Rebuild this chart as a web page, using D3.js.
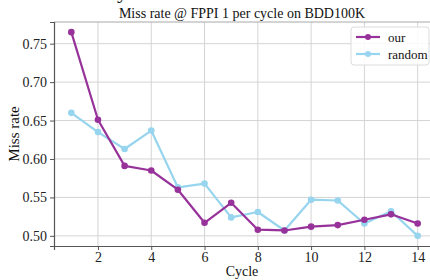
<!DOCTYPE html>
<html>
<head>
<meta charset="utf-8">
<script src="https://cdn.jsdelivr.net/npm/d3@7"></script>
<style>
  body { margin: 0; background: #fff; }
  svg { display: block; }
</style>
</head>
<body>
<div id="chart"></div>
<script>
// Data
const cycles = [1, 2, 3, 4, 5, 6, 7, 8, 9, 10, 11, 12, 13, 14];
const ourValues = [0.765, 0.651, 0.591, 0.585, 0.560, 0.517, 0.543, 0.508, 0.507, 0.512, 0.514, 0.521, 0.528, 0.516];
const randomValues = [0.660, 0.635, 0.613, 0.637, 0.563, 0.568, 0.524, 0.531, 0.507, 0.547, 0.546, 0.516, 0.532, 0.500];
const xTicks = [2, 4, 6, 8, 10, 12, 14];
const yTicks = [0.50, 0.55, 0.60, 0.65, 0.70, 0.75];
const seriesNames = ["our", "random"];

/**
 * Proportions of the SVG
 */
let svgWidth = 430;
let svgHeight = 280;

let plotLeft = 54;
let plotTop = 22;
let plotRight = 435;
let plotBottom = 246;

let fontFamily = "'Liberation Serif', 'DejaVu Serif', serif";
let ourColor = "#97329a";
let randomColor = "#97d5ee";

const svg = d3.select("#chart")
    .append("svg")
    .attr("width", svgWidth)
    .attr("height", svgHeight);

const x = d3.scaleLinear().domain([0.35, 14.65]).range([plotLeft, plotRight]);
const y = d3.scaleLinear().domain([0.4868, 0.7782]).range([plotBottom, plotTop]);

// cut off text above the chart (only its descender shows)
svg.append("text")
    .attr("x", 117)
    .attr("y", -2)
    .attr("font-family", fontFamily)
    .attr("font-size", 22)
    .attr("fill", "#111")
    .text("y");

// grid
svg.append("g")
    .selectAll("line")
    .data(xTicks)
    .enter()
    .append("line")
    .attr("x1", d => x(d))
    .attr("x2", d => x(d))
    .attr("y1", plotTop)
    .attr("y2", plotBottom)
    .attr("stroke", "#d4d4d4")
    .attr("stroke-width", 1);

svg.append("g")
    .selectAll("line")
    .data(yTicks)
    .enter()
    .append("line")
    .attr("x1", plotLeft)
    .attr("x2", plotRight)
    .attr("y1", d => y(d))
    .attr("y2", d => y(d))
    .attr("stroke", "#d4d4d4")
    .attr("stroke-width", 1);

// frame top
svg.append("line")
    .attr("x1", plotLeft)
    .attr("x2", plotRight)
    .attr("y1", plotTop)
    .attr("y2", plotTop)
    .attr("stroke", "#a8a8a8")
    .attr("stroke-width", 1);

// axes
const xAxis = svg.append("g")
    .attr("transform", `translate(0, ${plotBottom})`)
    .call(d3.axisBottom(x).tickValues(xTicks).tickSize(4).tickPadding(2).tickFormat(d3.format("d")));
const yAxis = svg.append("g")
    .attr("transform", `translate(${plotLeft}, 0)`)
    .call(d3.axisLeft(y).tickValues(yTicks).tickSize(4).tickPadding(3).tickFormat(d3.format(".2f")));

[xAxis, yAxis].forEach(ax => {
    ax.select(".domain").attr("stroke", "#555").attr("stroke-width", 1.2);
    ax.selectAll(".tick line").attr("stroke", "#555");
    ax.selectAll("text")
        .attr("font-family", fontFamily)
        .attr("font-size", 14)
        .attr("fill", "#222");
});

// lines
const line = d3.line()
    .x((d, i) => x(cycles[i]))
    .y(d => y(d));

const series = [
    { name: seriesNames[0], values: ourValues, color: ourColor },
    { name: seriesNames[1], values: randomValues, color: randomColor }
];

series.slice().reverse().forEach(s => {
    svg.append("path")
        .datum(s.values)
        .attr("d", line)
        .attr("fill", "none")
        .attr("stroke", s.color)
        .attr("stroke-width", 2.2)
        .attr("stroke-linejoin", "round");
    svg.append("g")
        .selectAll("circle")
        .data(s.values)
        .enter()
        .append("circle")
        .attr("cx", (d, i) => x(cycles[i]))
        .attr("cy", d => y(d))
        .attr("r", 3.3)
        .attr("fill", s.color);
});

// title
svg.append("text")
    .attr("x", 242)
    .attr("y", 18)
    .attr("text-anchor", "middle")
    .attr("font-family", fontFamily)
    .attr("font-size", 14)
    .attr("fill", "#111")
    .text("Miss rate @ FPPI 1 per cycle on BDD100K");

// axis labels
svg.append("text")
    .attr("x", 242)
    .attr("y", 276)
    .attr("text-anchor", "middle")
    .attr("font-family", fontFamily)
    .attr("font-size", 14)
    .attr("fill", "#111")
    .text("Cycle");

svg.append("text")
    .attr("transform", `translate(19, ${(plotTop + plotBottom) / 2}) rotate(-90)`)
    .attr("text-anchor", "middle")
    .attr("font-family", fontFamily)
    .attr("font-size", 15)
    .attr("fill", "#111")
    .text("Miss rate");

// legend
const legend = svg.append("g").attr("transform", "translate(351, 27)");
legend.append("rect")
    .attr("x", 0)
    .attr("y", 0)
    .attr("width", 78)
    .attr("height", 38)
    .attr("rx", 3)
    .attr("fill", "#fff")
    .attr("fill-opacity", 0.85)
    .attr("stroke", "#dcdcdc");

series.forEach((s, i) => {
    const ly = 10 + i * 17;
    legend.append("line")
        .attr("x1", 5)
        .attr("x2", 29)
        .attr("y1", ly)
        .attr("y2", ly)
        .attr("stroke", s.color)
        .attr("stroke-width", 2.2);
    legend.append("circle")
        .attr("cx", 17)
        .attr("cy", ly)
        .attr("r", 3)
        .attr("fill", s.color);
    legend.append("text")
        .attr("x", 37)
        .attr("y", ly)
        .attr("dominant-baseline", "central")
        .attr("font-family", fontFamily)
        .attr("font-size", 13)
        .attr("fill", "#111")
        .text(s.name);
});
</script>
</body>
</html>
